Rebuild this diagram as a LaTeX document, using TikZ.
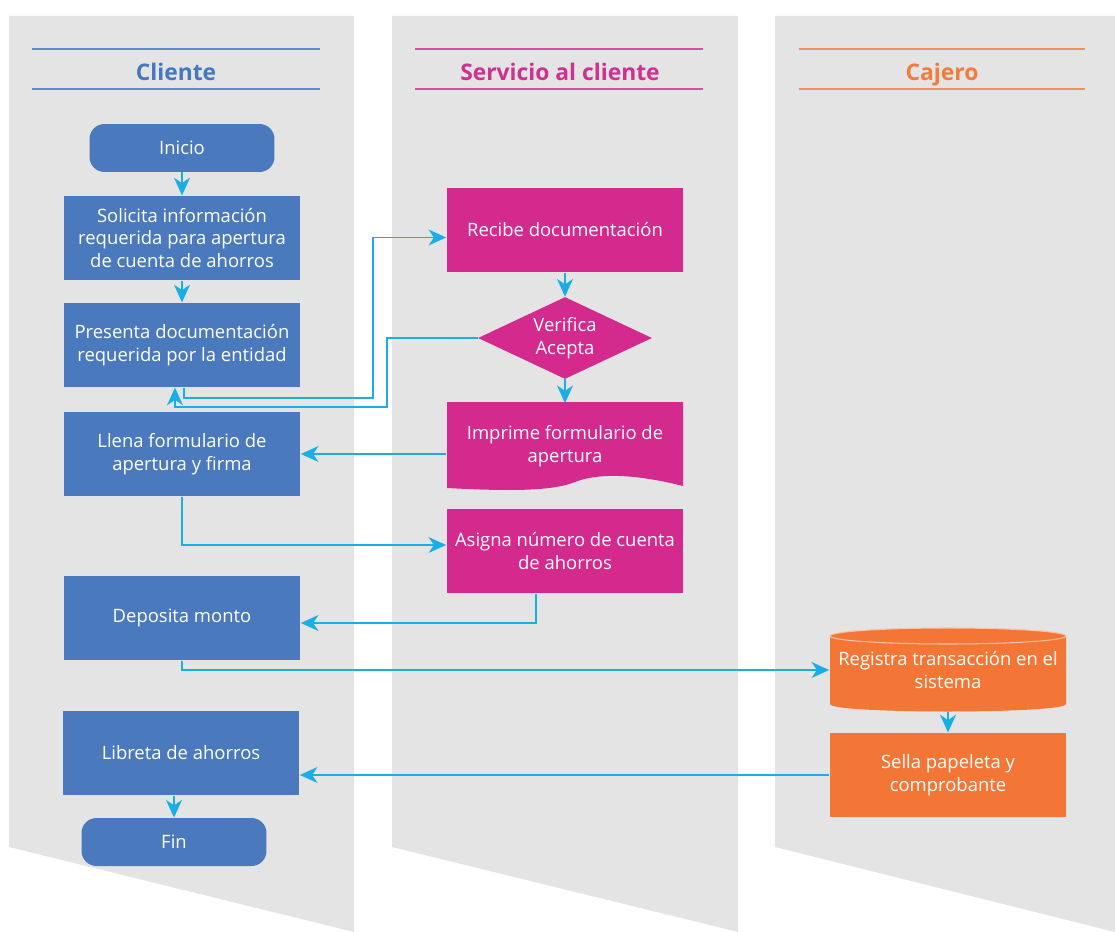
\documentclass[tikz,border=0pt]{standalone}
\usepackage{fontspec}
\setmainfont{Open Sans}
\usetikzlibrary{arrows.meta,shapes.geometric}

\definecolor{carril}{HTML}{E4E4E4}
\definecolor{azulcli}{HTML}{4A7ABD}
\definecolor{rosaserv}{HTML}{D42A8D}
\definecolor{naranjacaj}{HTML}{F37636}
\definecolor{flecha}{HTML}{1AAEE8}
\definecolor{titcli}{HTML}{4677BF}
\definecolor{titserv}{HTML}{D1308E}
\definecolor{titcaj}{HTML}{F37B3B}

\tikzset{
  caja/.style={rectangle, text=white, align=center, inner sep=0pt,
    minimum width=4.74cm, minimum height=1.69cm, font=\fontsize{10.5}{13}\selectfont},
  terminal/.style={caja, rounded corners=0.3cm, minimum width=3.7cm, minimum height=0.96cm},
  decision/.style={diamond, aspect=2.1, text=white, align=center, inner sep=0pt,
    minimum width=3.48cm, minimum height=1.64cm, font=\fontsize{10.5}{13}\selectfont},
  titulo/.style={font=\fontsize{13}{15}\selectfont\bfseries, anchor=base},
  cabecera/.style={line width=1.1pt},
  flujo/.style={draw=flecha, line width=1.1pt, -{Stealth[length=10pt, width=9pt, inset=3pt]}}
}

\begin{document}
\begin{tikzpicture}[x=0.02cm, y=-0.02cm]
\useasboundingbox (0,0) rectangle (1115,932);
\begin {scope}
  \fill [carril] (9,16) -- (354,16) -- (354,932) -- (9,847) -- cycle;
  \draw [cabecera, titcli!85!white] (32,49) -- (320,49);
  \draw [cabecera, titcli!85!white] (32,89) -- (320,89);
  \draw (176,80.5) node [titulo, text=titcli] (tcliente) {Cliente};
  \node [terminal, fill=azulcli] (inicio) at (182,148) {Inicio};
  \node [caja, fill=azulcli] (solicita) at (182,238) {Solicita información\\requerida para apertura\\de cuenta de ahorros};
  \node [caja, fill=azulcli] (presenta) at (182,345) {Presenta documentación\\requerida por la entidad};
  \node [caja, fill=azulcli] (llena) at (182,454) {Llena formulario de\\apertura y firma};
  \node [caja, fill=azulcli] (deposita) at (182,618) {Deposita monto};
  \node [caja, fill=azulcli] (libreta) at (181,753) {Libreta de ahorros};
  \node [terminal, fill=azulcli] (fin) at (174,842) {Fin};
\end {scope}
\begin {scope}
  \fill [carril] (392,16) -- (738,16) -- (738,932) -- (392,847) -- cycle;
  \draw [cabecera, titserv!85!white] (415,49) -- (703,49);
  \draw [cabecera, titserv!85!white] (415,89) -- (703,89);
  \draw (560,80.5) node [titulo, text=titserv] (tservicio) {Servicio al cliente};
  \node [caja, fill=rosaserv] (recibe) at (565,230) {Recibe documentación};
  \node [decision, fill=rosaserv] (verifica) at (565,338) {Verifica\\Acepta};
  \fill [rosaserv] (447,402) -- (683,402) -- (683,486)
    .. controls (640,475) and (600,472) .. (575,482)
    .. controls (555,490) and (520,492) .. (447,488) -- cycle;
  \node [caja, minimum height=1.7cm] (imprime) at (565,446) {Imprime formulario de\\apertura};
  \node [caja, fill=rosaserv] (asigna) at (565,551) {Asigna número de cuenta\\de ahorros};
\end {scope}
\begin {scope}
  \fill [carril] (775,16) -- (1115,16) -- (1115,932) -- (775,847) -- cycle;
  \draw [cabecera, titcaj!85!white] (799,49) -- (1085,49);
  \draw [cabecera, titcaj!85!white] (799,89) -- (1085,89);
  \draw (942,80.5) node [titulo, text=titcaj] (tcajero) {Cajero};
  \fill [naranjacaj] (830,636) -- (830,704) .. controls (830,714) and (1066,714) .. (1066,704) -- (1066,636) -- cycle;
  \filldraw [fill=naranjacaj, draw=naranjacaj!45!white, line width=0.6pt] (948,636) ellipse [x radius=2.36cm, y radius=0.16cm];
  \node [caja, minimum height=1.66cm] (registra) at (948,670) {Registra transacción en el\\sistema};
  \node [caja, fill=naranjacaj] (sella) at (948,775) {Sella papeleta y\\comprobante};
\end {scope}

\coordinate (codo1) at (373,398);
\coordinate (codo2) at (387,407);
\draw [flujo] (inicio) -- (solicita);
\draw [flujo] (solicita) -- (presenta);
\draw [flujo] ([xshift=0.04cm]presenta.south) |- (codo1) |- ([yshift=-0.15cm]recibe.west);
\draw [flujo] (recibe) -- (verifica);
\draw [flujo] (verifica.west) -| (codo2) -| ([xshift=-0.14cm]presenta.south);
\draw [flujo] (verifica) -- (imprime);
\draw [flujo] (imprime.west |- llena.east) -- (llena.east);
\draw [flujo] (llena.south) |- ([yshift=0.12cm]asigna.west);
\draw [flujo] ([xshift=-0.58cm]asigna.south) |- ([yshift=-0.1cm]deposita.east);
\draw [flujo] (deposita.south) |- (registra.west);
\draw [flujo] (registra) -- (sella);
\draw [flujo] (sella.west) -- (sella.west -| libreta.east);
\draw [flujo] (fin.north |- libreta.south) -- (fin.north);
\end{tikzpicture}
\end{document}
